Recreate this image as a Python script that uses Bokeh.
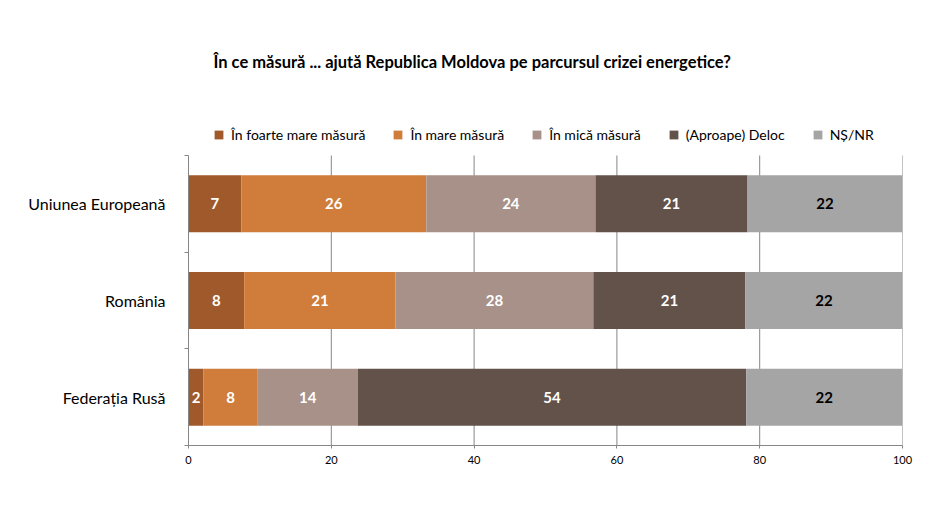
from bokeh.plotting import figure
from bokeh.models import (ColumnDataSource, Legend, LegendItem, FixedTicker, Range1d)
from bokeh.core.properties import value
from bokeh.embed import file_html
from bokeh.resources import INLINE

title_text = "În ce măsură ... ajută Republica Moldova pe parcursul crizei energetice?"
categories = ["Uniunea Europeană", "România", "Federația Rusă"]
series = ["În foarte mare măsură", "În mare măsură", "În mică măsură", "(Aproape) Deloc", "NȘ/NR"]
foarte_mare = [7.4, 7.8, 2.1]
mare = [25.9, 21.2, 7.6]
mica = [23.7, 27.7, 14.0]
deloc = [21.3, 21.3, 54.4]
ns_nr = [21.7, 22.0, 21.9]
colors = ["#A0592A", "#D07D3B", "#A89188", "#63524A", "#A5A5A5"]
label_colors = ["white", "white", "white", "white", "black"]
x_ticks = [0, 20, 40, 60, 80, 100]

FONT = "Lato"
GRAY = "#868686"

n = len(categories)
ypos = [n - i - 0.5 for i in range(n)]
data = {"y": ypos}
keys = ["s0", "s1", "s2", "s3", "s4"]
for k, vals in zip(keys, [foarte_mare, mare, mica, deloc, ns_nr]):
    data[k] = vals
src = ColumnDataSource(data)

# frame: categories occupy 290px; 37px extra on top hold the legend
top_pad = 37 / 290 * n

p = figure(width=931, height=516, x_range=Range1d(0, 100), y_range=Range1d(0, n + top_pad),
           output_backend="svg", toolbar_location=None,
           min_border_left=188, min_border_right=29, min_border_top=118, min_border_bottom=71)
p.outline_line_color = None

# vertical gridlines limited to the category area
p.segment(x0=x_ticks[1:], x1=x_ticks[1:], y0=[0] * 5, y1=[n] * 5, line_color=GRAY,
          line_width=1, level="underlay")

renderers = p.hbar_stack(keys, y="y", height=0.59, color=colors, source=src, line_color=None)

# data labels
for j, k in enumerate(keys):
    starts = [sum(data[kk][i] for kk in keys[:j]) for i in range(n)]
    mids = [s + v / 2 for s, v in zip(starts, data[k])]
    txt = [str(int(round(v))) for v in data[k]]
    p.text(x=mids, y=ypos, text=txt, text_align="center", text_baseline="middle",
           text_color=label_colors[j], text_font=value(FONT), text_font_style="bold",
           text_font_size="15px")

# x axis
p.xaxis.ticker = FixedTicker(ticks=x_ticks)
p.xaxis.axis_line_color = GRAY
p.xaxis.major_tick_line_color = GRAY
p.xaxis.major_tick_out = 3
p.xaxis.major_tick_in = 0
p.xaxis.minor_tick_line_color = None
p.xaxis.major_label_standoff = 7
p.xaxis.major_label_text_font = FONT
p.xaxis.major_label_text_font_size = "11px"
p.xaxis.major_label_text_color = "black"

# y axis: labels at category centres, ticks at boundaries
p.yaxis.bounds = (0, n)
p.yaxis.ticker = FixedTicker(ticks=ypos, minor_ticks=list(range(n + 1)))
p.yaxis.major_label_overrides = {y: c for y, c in zip(ypos, categories)}
p.yaxis.axis_line_color = GRAY
p.yaxis.major_tick_line_color = None
p.yaxis.major_tick_out = 0
p.yaxis.major_tick_in = 0
p.yaxis.minor_tick_line_color = GRAY
p.yaxis.minor_tick_out = 4
p.yaxis.minor_tick_in = 0
p.yaxis.major_label_standoff = 19
p.yaxis.major_label_text_font = FONT
p.yaxis.major_label_text_font_size = "16px"
p.yaxis.major_label_text_color = "black"

p.xgrid.grid_line_color = None
p.ygrid.grid_line_color = None

legend = Legend(items=[LegendItem(label=s, renderers=[r]) for s, r in zip(series, renderers)],
                orientation="horizontal", location=(25, 302))
legend.glyph_width = 11
legend.glyph_height = 11
legend.label_standoff = 7
legend.spacing = 27
legend.padding = 0
legend.margin = 0
legend.label_text_font = FONT
legend.label_text_font_size = "14px"
legend.label_text_color = "black"
legend.border_line_color = None
legend.background_fill_alpha = 0
p.add_layout(legend, "center")

p.title.text = title_text
p.title.align = "left"
p.title.offset = 25
p.title.standoff = 94
p.title.text_font = FONT
p.title.text_font_size = "16.5px"
p.title.text_font_style = "bold"
p.title.text_color = "black"

open("out.html", "w").write(file_html(p, INLINE))
